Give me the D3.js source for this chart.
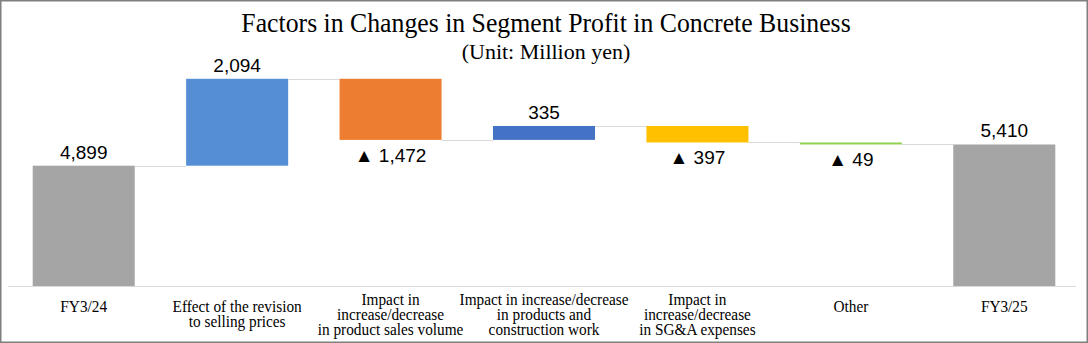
<!DOCTYPE html>
<html>
<head>
<meta charset="utf-8">
<script src="https://cdn.jsdelivr.net/npm/d3@7"></script>
<style>
  html, body { margin: 0; padding: 0; background: #fff; }
  svg { display: block; }
</style>
</head>
<body>
<svg id="chart"></svg>
<script>
// chart data
const categories = ["FY3/24", "Effect of the revision to selling prices", "Impact in increase/decrease in product sales volume",
  "Impact in increase/decrease in products and construction work", "Impact in increase/decrease in SG&A expenses", "Other", "FY3/25"];
const categoryLines = [
  ["FY3/24"],
  ["Effect of the revision", "to selling prices"],
  ["Impact in", "increase/decrease", "in product sales volume"],
  ["Impact in increase/decrease", "in products and", "construction work"],
  ["Impact in", "increase/decrease", "in SG&A expenses"],
  ["Other"],
  ["FY3/25"]
];
const values = [4899, 2094, -1472, 335, -397, -49, 5410];
const isTotal = [true, false, false, false, false, false, true];
const barColors = ["#a5a5a5", "#558ed5", "#ed7d31", "#4472c4", "#ffc000", "#92d050", "#a5a5a5"];
const yDomain = [2000, 8000];

const width = 1088, height = 343;
const svg = d3.select("#chart").attr("width", width).attr("height", height);

// frame
svg.append("rect")
  .attr("x", 0.75).attr("y", 0.75)
  .attr("width", width - 1.5).attr("height", height - 1.5)
  .attr("fill", "#fff").attr("stroke", "#7f7f7f").attr("stroke-width", 1.5);

// titles
svg.append("text")
  .attr("transform", "translate(546,32) scale(0.92,1)")
  .attr("text-anchor", "middle")
  .style("font-family", "'Liberation Serif', 'Times New Roman', serif")
  .style("font-size", "28px")
  .attr("fill", "#000")
  .text("Factors in Changes in Segment Profit in Concrete Business");

svg.append("text")
  .attr("transform", "translate(546,59)")
  .attr("text-anchor", "middle")
  .style("font-family", "'Liberation Serif', 'Times New Roman', serif")
  .style("font-size", "22px")
  .attr("fill", "#000")
  .text("(Unit: Million yen)");

// waterfall steps
let running = 0;
const steps = values.map((v, i) => {
  let start, end;
  if (isTotal[i]) { start = yDomain[0]; end = v; running = v; }
  else { start = running; end = running + v; running = end; }
  return { cat: categories[i], lines: categoryLines[i], value: v, start, end, total: isTotal[i], color: barColors[i] };
});

// scales
const x = d3.scaleBand()
  .domain(categories)
  .range([7, 1081])
  .paddingInner(0.335)
  .paddingOuter(0.1675);

const y = d3.scaleLinear()
  .domain(yDomain)
  .range([286, 37]);

// axis line
const xAxis = svg.append("g")
  .attr("transform", "translate(0," + y(yDomain[0]) + ")")
  .call(d3.axisBottom(x).tickSize(0).tickFormat(""));
xAxis.select(".domain").attr("stroke", "#d9d9d9").attr("d", "M8,0.5H1076");

// connectors
const conn = svg.append("g");
steps.forEach((d, i) => {
  if (i === steps.length - 1) return;
  conn.append("line")
    .attr("x1", x(d.cat) + x.bandwidth())
    .attr("x2", x(steps[i + 1].cat))
    .attr("y1", Math.round(y(d.end)) + 0.5)
    .attr("y2", Math.round(y(d.end)) + 0.5)
    .attr("stroke", "#d9d9d9")
    .attr("stroke-width", 1);
});

// bars
svg.append("g")
  .selectAll("rect")
  .data(steps)
  .join("rect")
  .attr("x", d => x(d.cat))
  .attr("y", d => y(Math.max(d.start, d.end)))
  .attr("width", x.bandwidth())
  .attr("height", d => Math.max(1.5, Math.abs(y(d.start) - y(d.end))))
  .attr("fill", d => d.color);

// value labels
const fmt = d3.format(",");
svg.append("g")
  .selectAll("text")
  .data(steps)
  .join("text")
  .attr("x", d => x(d.cat) + x.bandwidth() / 2)
  .attr("y", d => d.value >= 0 ? y(Math.max(d.start, d.end)) - 7 : y(Math.min(d.start, d.end)) + 22)
  .attr("text-anchor", "middle")
  .style("font-family", "'Liberation Sans', Arial, sans-serif")
  .style("font-size", "19px")
  .attr("fill", "#000")
  .text(d => d.value >= 0 ? fmt(d.value) : "\u25B2 " + fmt(-d.value));

// category labels
const cats = svg.append("g");
steps.forEach(d => {
  const n = d.lines.length;
  const cx = x(d.cat) + x.bandwidth() / 2;
  const t = cats.append("text")
    .attr("transform", `translate(${cx},${Math.min(312, 335 - 15 * (n - 1))}) scale(0.9,1)`)
    .attr("text-anchor", "middle")
    .style("font-family", "'Liberation Serif', 'Times New Roman', serif")
    .style("font-size", "17px")
    .attr("fill", "#000");
  d.lines.forEach((ln, j) => {
    t.append("tspan").attr("x", 0).attr("y", j * 15).text(ln);
  });
});
</script>
</body>
</html>
